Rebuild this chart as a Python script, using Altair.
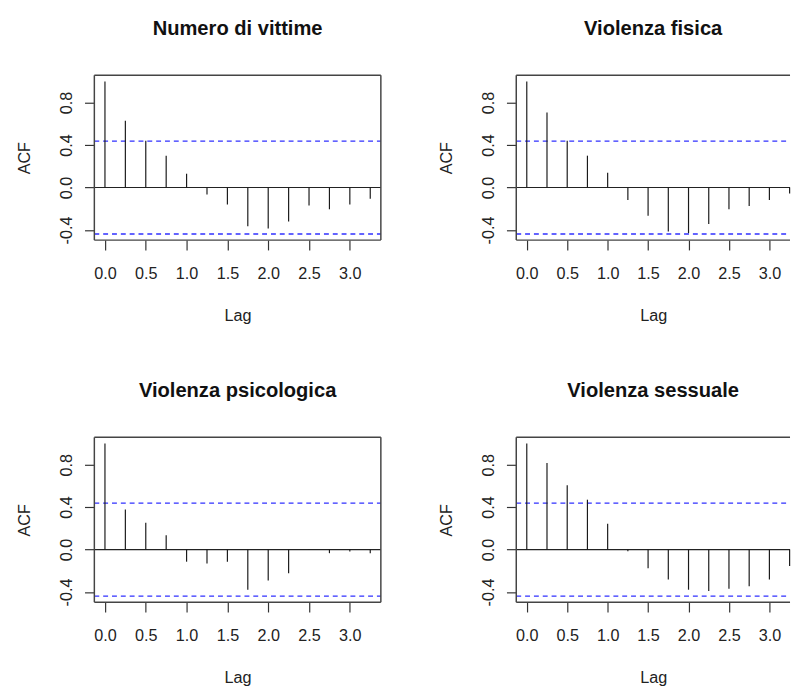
import altair as alt
import pandas as pd

lags = [0.0, 0.25, 0.5, 0.75, 1.0, 1.25, 1.5, 1.75, 2.0, 2.25, 2.5, 2.75, 3.0, 3.25]

titles = ["Numero di vittime", "Violenza fisica", "Violenza psicologica", "Violenza sessuale"]

acf_vittime = [1.0, 0.63, 0.44, 0.30, 0.13, -0.065, -0.16, -0.365, -0.385, -0.32, -0.17, -0.205, -0.16, -0.105]
acf_fisica = [1.0, 0.707, 0.44, 0.30, 0.14, -0.118, -0.267, -0.415, -0.43, -0.344, -0.205, -0.174, -0.118, -0.056]
acf_psicologica = [1.0, 0.378, 0.252, 0.135, -0.114, -0.132, -0.114, -0.378, -0.292, -0.222, -0.004, -0.034, -0.018, -0.034]
acf_sessuale = [1.0, 0.815, 0.606, 0.47, 0.243, -0.015, -0.175, -0.283, -0.378, -0.39, -0.37, -0.345, -0.283, -0.154]

ci_bound = 0.438
x_ticks = [0.0, 0.5, 1.0, 1.5, 2.0, 2.5, 3.0]
y_ticks = [-0.4, -0.2, 0.0, 0.2, 0.4, 0.6, 0.8, 1.0]

FONT = "Liberation Sans"
FS = 16.5
H = 168
W_LEFT = 292
W_RIGHT = 279


def panel(title, vals, W, xmax, right_frame):
    df = pd.DataFrame({"lag": lags, "acf": vals, "zero": [0.0] * len(lags)})
    x = alt.X(
        "lag:Q",
        scale=alt.Scale(domain=[-0.13, xmax], nice=False, zero=False),
        axis=alt.Axis(
            values=x_ticks, format=".1f", title="Lag", tickSize=10,
            labelPadding=15.7, domain=False, grid=False, minExtent=42.2,
            maxExtent=42.2, titlePadding=26.8, labelFontSize=FS,
            titleFontSize=FS, titleFontWeight="normal", labelFont=FONT,
            titleFont=FONT, labelColor="#222", titleColor="#222",
            tickColor="#333", tickWidth=1.2, labelFlush=False,
            labelOverlap=False, labelBound=False,
        ),
    )
    y = alt.Y(
        "acf:Q",
        scale=alt.Scale(domain=[-0.4955, 1.0575], nice=False, zero=False),
        axis=alt.Axis(
            values=y_ticks,
            labelExpr="(abs(round(datum.value*10)) % 4 == 0) ? ((datum.value < -0.01 ? '-' : '') + format(abs(datum.value), '.1f')) : ''",
            title="ACF", tickSize=10, labelAngle=270, labelAlign="center",
            labelBaseline="bottom", labelPadding=10.2, domain=False,
            grid=False, minExtent=36.7, maxExtent=36.7, titlePadding=26.1,
            labelFontSize=FS, titleFontSize=FS, titleFontWeight="normal",
            labelFont=FONT, titleFont=FONT, labelColor="#222",
            titleColor="#222", tickColor="#333", tickWidth=1.2,
            labelFlush=False, labelOverlap=False, labelBound=False,
        ),
    )
    bars = alt.Chart(df).mark_rule(color="#1a1a1a", strokeWidth=1.2).encode(
        x=x, y=y, y2="zero:Q"
    )
    zero_df = pd.DataFrame({"acf": [0.0]})
    zero = alt.Chart(zero_df).mark_rule(color="#222", strokeWidth=1.2).encode(
        y="acf:Q", x=alt.value(0), x2=alt.value(W)
    )
    ci_df = pd.DataFrame({"acf": [ci_bound, -ci_bound]})
    ci = alt.Chart(ci_df).mark_rule(
        color="#3030ff", strokeWidth=1.3, strokeDash=[5, 4]
    ).encode(y="acf:Q", x=alt.value(0), x2=alt.value(W))
    fdf = pd.DataFrame({"k": [0]})
    frame_style = dict(color="#444", strokeWidth=1.5)
    left = alt.Chart(fdf).mark_rule(**frame_style).encode(
        x=alt.value(0), y=alt.value(0), y2=alt.value(H))
    top = alt.Chart(fdf).mark_rule(**frame_style).encode(
        x=alt.value(0), x2=alt.value(W), y=alt.value(0))
    bottom = alt.Chart(fdf).mark_rule(**frame_style).encode(
        x=alt.value(0), x2=alt.value(W), y=alt.value(H))
    layers = [ci, zero, bars, left, top, bottom]
    if right_frame:
        layers.append(alt.Chart(fdf).mark_rule(**frame_style).encode(
            x=alt.value(W), y=alt.value(0), y2=alt.value(H)))
    return alt.layer(*layers).properties(
        width=W, height=H,
        title=alt.TitleParams(
            title, fontSize=20.5, font=FONT, fontWeight="bold",
            baseline="alphabetic", offset=20, anchor="middle",
            frame="group", color="#111",
        ),
    )


p1 = panel(titles[0], acf_vittime, W_LEFT, 3.38, True)
p2 = panel(titles[1], acf_fisica, W_RIGHT, 3.255, False)
p3 = panel(titles[2], acf_psicologica, W_LEFT, 3.38, True)
p4 = panel(titles[3], acf_sessuale, W_RIGHT, 3.255, False)

row1 = alt.hconcat(p1, p2, spacing=58)
row2 = alt.hconcat(p3, p4, spacing=58)

chart = alt.vconcat(row1, row2, spacing=57).properties(
    padding={"left": 9, "top": 4, "right": 0, "bottom": 0},
    background="white",
).configure_view(stroke=None)

chart.save("out.html", embed_options={"renderer": "svg", "actions": False})
